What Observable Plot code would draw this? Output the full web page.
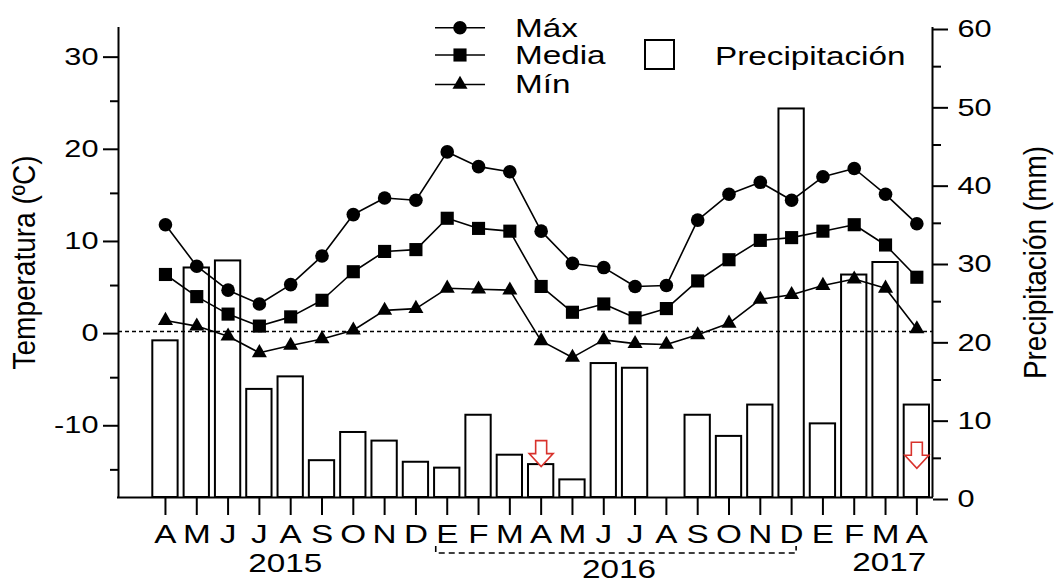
<!DOCTYPE html>
<html><head><meta charset="utf-8">
<script src="https://cdn.jsdelivr.net/npm/d3@7"></script>
<script src="https://cdn.jsdelivr.net/npm/@observablehq/plot@0.6"></script>
<style>
html,body{margin:0;padding:0;background:#fff;}
#chart{width:1056px;height:583px;}
#chart svg{font-family:"Liberation Sans",Arial,sans-serif;}
</style></head><body><div id="chart"></div>
<script>
// ---------- data ----------
const months = ["A","M","J","J","A","S","O","N","D","E","F","M","A","M","J","J","A","S","O","N","D","E","F","M","A"];
const monthYear = [2015,2015,2015,2015,2015,2015,2015,2015,2015,2016,2016,2016,2016,2016,2016,2016,2016,2016,2016,2016,2016,2017,2017,2017,2017];
const years = [2015, 2016, 2017];
const tMax   = [11.6, 7.1, 4.5, 3.0, 5.1, 8.2, 12.7, 14.5, 14.25, 19.5, 17.9, 17.35, 10.9, 7.4, 6.95, 4.9, 5.0, 12.1, 14.9, 16.2, 14.25, 16.8, 17.7, 14.9, 11.7];
const tMedia = [6.2, 3.8, 1.9, 0.6, 1.6, 3.4, 6.5, 8.7, 8.9, 12.3, 11.2, 10.9, 4.9, 2.1, 3.0, 1.5, 2.5, 5.5, 7.8, 9.9, 10.2, 10.9, 11.6, 9.4, 5.9];
const tMin   = [1.2, 0.6, -0.5, -2.3, -1.5, -0.8, 0.15, 2.3, 2.5, 4.7, 4.6, 4.5, -1.0, -2.8, -0.9, -1.3, -1.4, -0.35, 0.9, 3.5, 4.0, 5.0, 5.7, 4.7, 0.3];
const precip = [20, 29.3, 30.2, 13.8, 15.4, 4.7, 8.3, 7.2, 4.5, 3.75, 10.5, 5.4, 4.2, 2.25, 17.1, 16.5, null, 10.5, 7.8, 11.8, 49.6, 9.4, 28.4, 30.0, 11.8];
const seriesNames = ["Máx", "Media", "Mín"];
const precipName = "Precipitación";
const tempLabel = "Temperatura (ºC)";
const precipLabel = "Precipitación (mm)";
const arrowMarks = [{month: 12, mm: 5.6}, {month: 24, mm: 5.4}];
const tempTicks = [-10, 0, 10, 20, 30];
const tempMinor = [-15, -5, 5, 15, 25];
const precipTicks = [0, 10, 20, 30, 40, 50, 60];
const precipMinor = [5, 15, 25, 35, 45, 55];
const tempDomain = [-18, 33];
const precipDomain = [0, 60];

// ---------- derived ----------
const p2t = p => tempDomain[0] + (p - precipDomain[0]) * (tempDomain[1] - tempDomain[0]) / (precipDomain[1] - precipDomain[0]);
const t2p = t => precipDomain[0] + (t - tempDomain[0]) * (precipDomain[1] - precipDomain[0]) / (tempDomain[1] - tempDomain[0]);
const idx = d3.range(months.length);
const rows = idx.map(i => ({i, max: tMax[i], media: tMedia[i], min: tMin[i], mm: precip[i]}));
const bars = rows.filter(d => d.mm != null && d.mm > 0);
const xDomain = [-1.5, months.length - 0.5];

const RED = "#d8322c";
const arrowSymbol = {
  draw(ctx) {
    ctx.moveTo(-5.5, -13); ctx.lineTo(5.5, -13); ctx.lineTo(5.5, 0); ctx.lineTo(12, 0);
    ctx.lineTo(0, 13); ctx.lineTo(-12, 0); ctx.lineTo(-5.5, 0); ctx.closePath();
  }
};

const chart = Plot.plot({
  width: 1056, height: 583,
  marginLeft: 118, marginRight: 124, marginTop: 27, marginBottom: 86,
  style: {fontFamily: '"Liberation Sans", Arial, sans-serif', fontSize: "24px", color: "#000", background: "#fff", overflow: "visible"},
  x: {domain: xDomain, axis: null},
  y: {domain: tempDomain, axis: null},
  marks: [
    Plot.rectY(bars, {x1: d => d.i - 0.5, x2: d => d.i + 0.5, y1: d => tempDomain[0], y2: d => p2t(d.mm),
      insetLeft: 3, insetRight: 3, fill: "#fff", stroke: "#000", strokeWidth: 2}),
    Plot.ruleY([0], {stroke: "#000", strokeWidth: 1.5, strokeDasharray: "4,3"}),
    Plot.line(rows, {x: "i", y: "max", stroke: "#000", strokeWidth: 1.6}),
    Plot.line(rows, {x: "i", y: "media", stroke: "#000", strokeWidth: 1.6}),
    Plot.line(rows, {x: "i", y: "min", stroke: "#000", strokeWidth: 1.6}),
    Plot.dot(rows, {x: "i", y: "max", symbol: "circle", r: 6.8, fill: "#000"}),
    Plot.dot(rows, {x: "i", y: "media", symbol: "square", r: 7.4, fill: "#000"}),
    Plot.dot(rows, {x: "i", y: "min", symbol: "triangle", r: 5.6, fill: "#000"}),
    Plot.dot(arrowMarks, {x: "month", y: d => p2t(d.mm), symbol: arrowSymbol, r: 10, fill: "#fff", stroke: RED, strokeWidth: 1.6}),
    Plot.ruleX([xDomain[0]], {stroke: "#000", strokeWidth: 2}),
    Plot.ruleX([xDomain[1]], {stroke: "#000", strokeWidth: 2}),
    Plot.ruleY([tempDomain[0]], {stroke: "#000", strokeWidth: 2, strokeLinecap: "square"}),
    Plot.axisY(tempTicks, {anchor: "left", tickSize: 15, tickPadding: 5, strokeWidth: 2, dy: 2, fontSize: 24, tickFormat: d => String(d), label: null}),
    Plot.axisY(tempMinor, {anchor: "left", tickSize: 8, strokeWidth: 2, tickFormat: () => "", label: null}),
    Plot.axisY(precipTicks.map(p2t), {anchor: "right", tickSize: 15, tickPadding: 10, strokeWidth: 2, dy: 2, fontSize: 24, tickFormat: t => String(Math.round(t2p(t))), label: null}),
    Plot.axisY(precipMinor.map(p2t), {anchor: "right", tickSize: 8, strokeWidth: 2, tickFormat: () => "", label: null}),
    Plot.axisX(idx, {anchor: "bottom", tickSize: 18, tickPadding: 9, strokeWidth: 2, fontSize: 26, tickFormat: i => months[i], label: null}),
    Plot.text([tempLabel], {text: d => d, frameAnchor: "left", textAnchor: "middle", dx: -93.5, rotate: -90, fontSize: 28}),
    Plot.text([precipLabel], {text: d => d, frameAnchor: "right", textAnchor: "middle", dx: 103, rotate: -90, fontSize: 28})
  ]
});
document.getElementById("chart").appendChild(chart);

// ---------- annotations (legend, years, bracket) using Plot's x scale ----------
const xs = chart.scale("x");
const X = v => xs.apply(v);
const svg = d3.select(chart);
const ann = svg.append("g").attr("fill", "#000").attr("font-size", 26);

// year labels
const yearLayout = {2015: {dx: -5, base: 572}, 2016: {dx: 0, base: 578}, 2017: {dx: 20, base: 571}};
years.forEach(y => {
  const ii = idx.filter(i => monthYear[i] === y);
  const c = (X(ii[0]) + X(ii[ii.length - 1])) / 2 + yearLayout[y].dx;
  ann.append("text").attr("x", c).attr("y", yearLayout[y].base).attr("text-anchor", "middle").text(String(y));
});
// dashed bracket under the full year (2016)
{
  const ii = idx.filter(i => monthYear[i] === 2016);
  const x0 = X(ii[0]) - 11, x1 = X(ii[ii.length - 1]) + 5;
  ann.append("path").attr("d", `M${x0},546 V553 H${x1} V546`).attr("fill", "none")
    .attr("stroke", "#000").attr("stroke-width", 1.6).attr("stroke-dasharray", "6,4");
}
// legend
const legendSyms = [
  {sym: d3.symbolCircle, r: 6.8, cy: 27.7, base: 37.5},
  {sym: d3.symbolSquare, r: 7.4, cy: 55, base: 64},
  {sym: d3.symbolTriangle, r: 5.6, cy: 84.5, base: 93.5}
];
seriesNames.forEach((name, k) => {
  const s = legendSyms[k];
  ann.append("line").attr("x1", 435).attr("x2", 485).attr("y1", s.cy).attr("y2", s.cy).attr("stroke", "#000").attr("stroke-width", 1.6);
  ann.append("path").attr("transform", `translate(460,${s.cy})`).attr("d", d3.symbol(s.sym, Math.PI * s.r * s.r)());
  ann.append("text").attr("x", 515).attr("y", s.base).attr("text-anchor", "start").text(name);
});
ann.append("rect").attr("x", 645).attr("y", 40).attr("width", 29).attr("height", 29).attr("fill", "#fff").attr("stroke", "#000").attr("stroke-width", 2);
ann.append("text").attr("x", 715).attr("y", 65).attr("text-anchor", "start").text(precipName);

// horizontal stretch of the texts (the reference is widened horizontally)
const S = 1.28;
svg.selectAll("text").each(function () {
  const t = this.getAttribute("transform") || "";
  if (t.includes("rotate")) {
    this.setAttribute("transform", `${t} scale(1,1.15)`);
    return;
  }
  const ax = +(this.getAttribute("x") || 0);
  this.setAttribute("transform", `${t} translate(${ax},0) scale(${S},1) translate(${-ax},0)`);
});
</script></body></html>
